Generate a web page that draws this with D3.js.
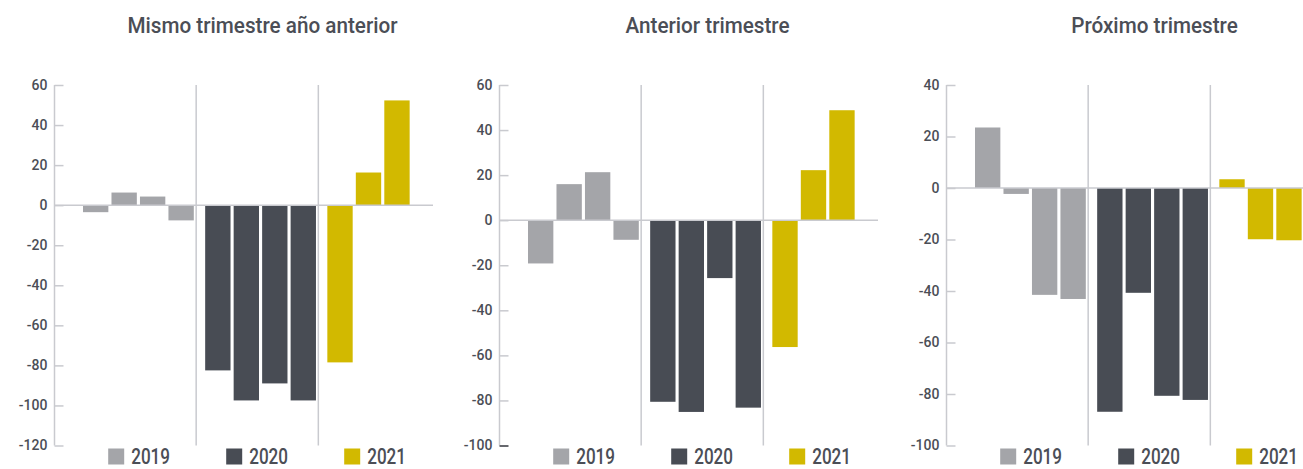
<!DOCTYPE html>
<html>
<head>
<meta charset="utf-8">
<script src="https://cdn.jsdelivr.net/npm/d3@7"></script>
<style>
  body { margin: 0; background: #fff; }
  svg { display: block; font-family: Roboto, sans-serif; }
</style>
</head>
<body>
<div id="chart"></div>
<script>
// categories
const years = ['2019', '2020', '2021'];
const quarters = ['T1', 'T2', 'T3', 'T4'];
const periods = ['2019-T1', '2019-T2', '2019-T3', '2019-T4',
                 '2020-T1', '2020-T2', '2020-T3', '2020-T4',
                 '2021-T1', '2021-T2', '2021-T3'];

// series values (saldo de respuestas, %)
const mismoTrimestre = [-3.5, 6.3, 4.3, -7.6, -82.5, -97.5, -89, -97.5, -78.5, 16.3, 52.3];
const anteriorTrimestre = [-19.2, 16, 21.3, -8.7, -80.6, -85.1, -25.7, -83.2, -56.3, 22.2, 48.8];
const proximoTrimestre = [23.5, -2.3, -41.5, -43.1, -86.9, -40.7, -80.7, -82.3, 3.4, -19.9, -20.3];

// titles and axis ranges
const titles = ['Mismo trimestre año anterior', 'Anterior trimestre', 'Próximo trimestre'];
const yDomains = [[-120, 60], [-100, 60], [-100, 40]];

const colors = { '2019': '#a4a5a9', '2020': '#484c54', '2021': '#d2b900' };
const textColor = '#4b4e56';
const lineColor = '#c9cacf';

const width = 1303, height = 469;
const plotTop = 85, plotBottom = 445.5;
const plotW = 378.5;
const lefts = [54.5, 499.5, 946.5];

const svg = d3.select('#chart').append('svg')
  .attr('width', width)
  .attr('height', height);

const panels = [mismoTrimestre, anteriorTrimestre, proximoTrimestre];

// group scale (years) and bar scale (quarters) shared by all panels
const x0 = d3.scaleBand().domain(years).range([19.5, 386]);
const x1 = d3.scaleBand().domain(quarters).range([9, 119.8]).paddingInner(0.11);

panels.forEach((values, i) => {
  const g = svg.append('g').attr('transform', `translate(${lefts[i]},0)`);
  const y = d3.scaleLinear().domain(yDomains[i]).range([plotBottom, plotTop]);

  const data = periods.map((p, k) => {
    const [yr, q] = p.split('-');
    return { year: yr, quarter: q, value: values[k] };
  });

  // title
  g.append('text')
    .attr('transform', `translate(208,32.5) scale(0.94,1)`)
    .attr('text-anchor', 'middle')
    .attr('font-size', 22)
    .attr('font-weight', 500)
    .attr('fill', textColor)
    .text(titles[i]);

  // separators between years
  g.selectAll('line.sep')
    .data(years.slice(1)).enter()
    .append('line')
      .attr('class', 'sep')
      .attr('x1', d => x0(d)).attr('x2', d => x0(d))
      .attr('y1', plotTop).attr('y2', plotBottom)
      .attr('stroke', lineColor)
      .attr('stroke-width', 1.5);

  // bars
  g.selectAll('rect.bar')
    .data(data).enter()
    .append('rect')
      .attr('class', 'bar')
      .attr('x', d => x0(d.year) + x1(d.quarter))
      .attr('width', x1.bandwidth())
      .attr('y', d => y(Math.max(0, d.value)))
      .attr('height', d => Math.abs(y(d.value) - y(0)))
      .attr('fill', d => colors[d.year]);

  // zero line
  g.append('line')
    .attr('x1', 0).attr('x2', plotW)
    .attr('y1', y(0)).attr('y2', y(0))
    .attr('stroke', lineColor)
    .attr('stroke-width', 1.5);

  // y axis
  const axis = g.append('g')
    .call(d3.axisLeft(y)
      .tickValues(d3.range(yDomains[i][0], yDomains[i][1] + 1, 20))
      .tickSize(-9)
      .tickPadding(7)
      .tickFormat(d => String(d)));
  axis.select('.domain')
    .attr('stroke', lineColor)
    .attr('stroke-width', 1.5)
    .attr('d', `M0,${plotTop}V${plotBottom}`);
  axis.selectAll('.tick line')
    .attr('stroke', lineColor)
    .attr('stroke-width', 1.5);
  axis.selectAll('.tick text')
    .attr('fill', textColor)
    .attr('font-size', 14)
    .attr('font-weight', 500)
    .attr('font-family', 'Roboto, sans-serif');
  if (i === 1) {
    // bottom tick drawn darker in the middle panel
    axis.selectAll('.tick line')
      .filter(d => d === yDomains[i][0])
      .attr('stroke', '#33363c');
  }

  // legend
  const legend = g.selectAll('g.legend')
    .data(years).enter()
    .append('g')
      .attr('class', 'legend')
      .attr('transform', (d, k) => `translate(${53.7 + k * 118},448.5)`);
  legend.append('rect')
    .attr('width', 16)
    .attr('height', 16)
    .attr('fill', d => colors[d]);
  legend.append('text')
    .attr('transform', 'translate(23,15.8) scale(0.76,1)')
    .attr('font-size', 22.5)
    .attr('font-weight', 500)
    .attr('fill', textColor)
    .text(d => d);
});
</script>
</body>
</html>
